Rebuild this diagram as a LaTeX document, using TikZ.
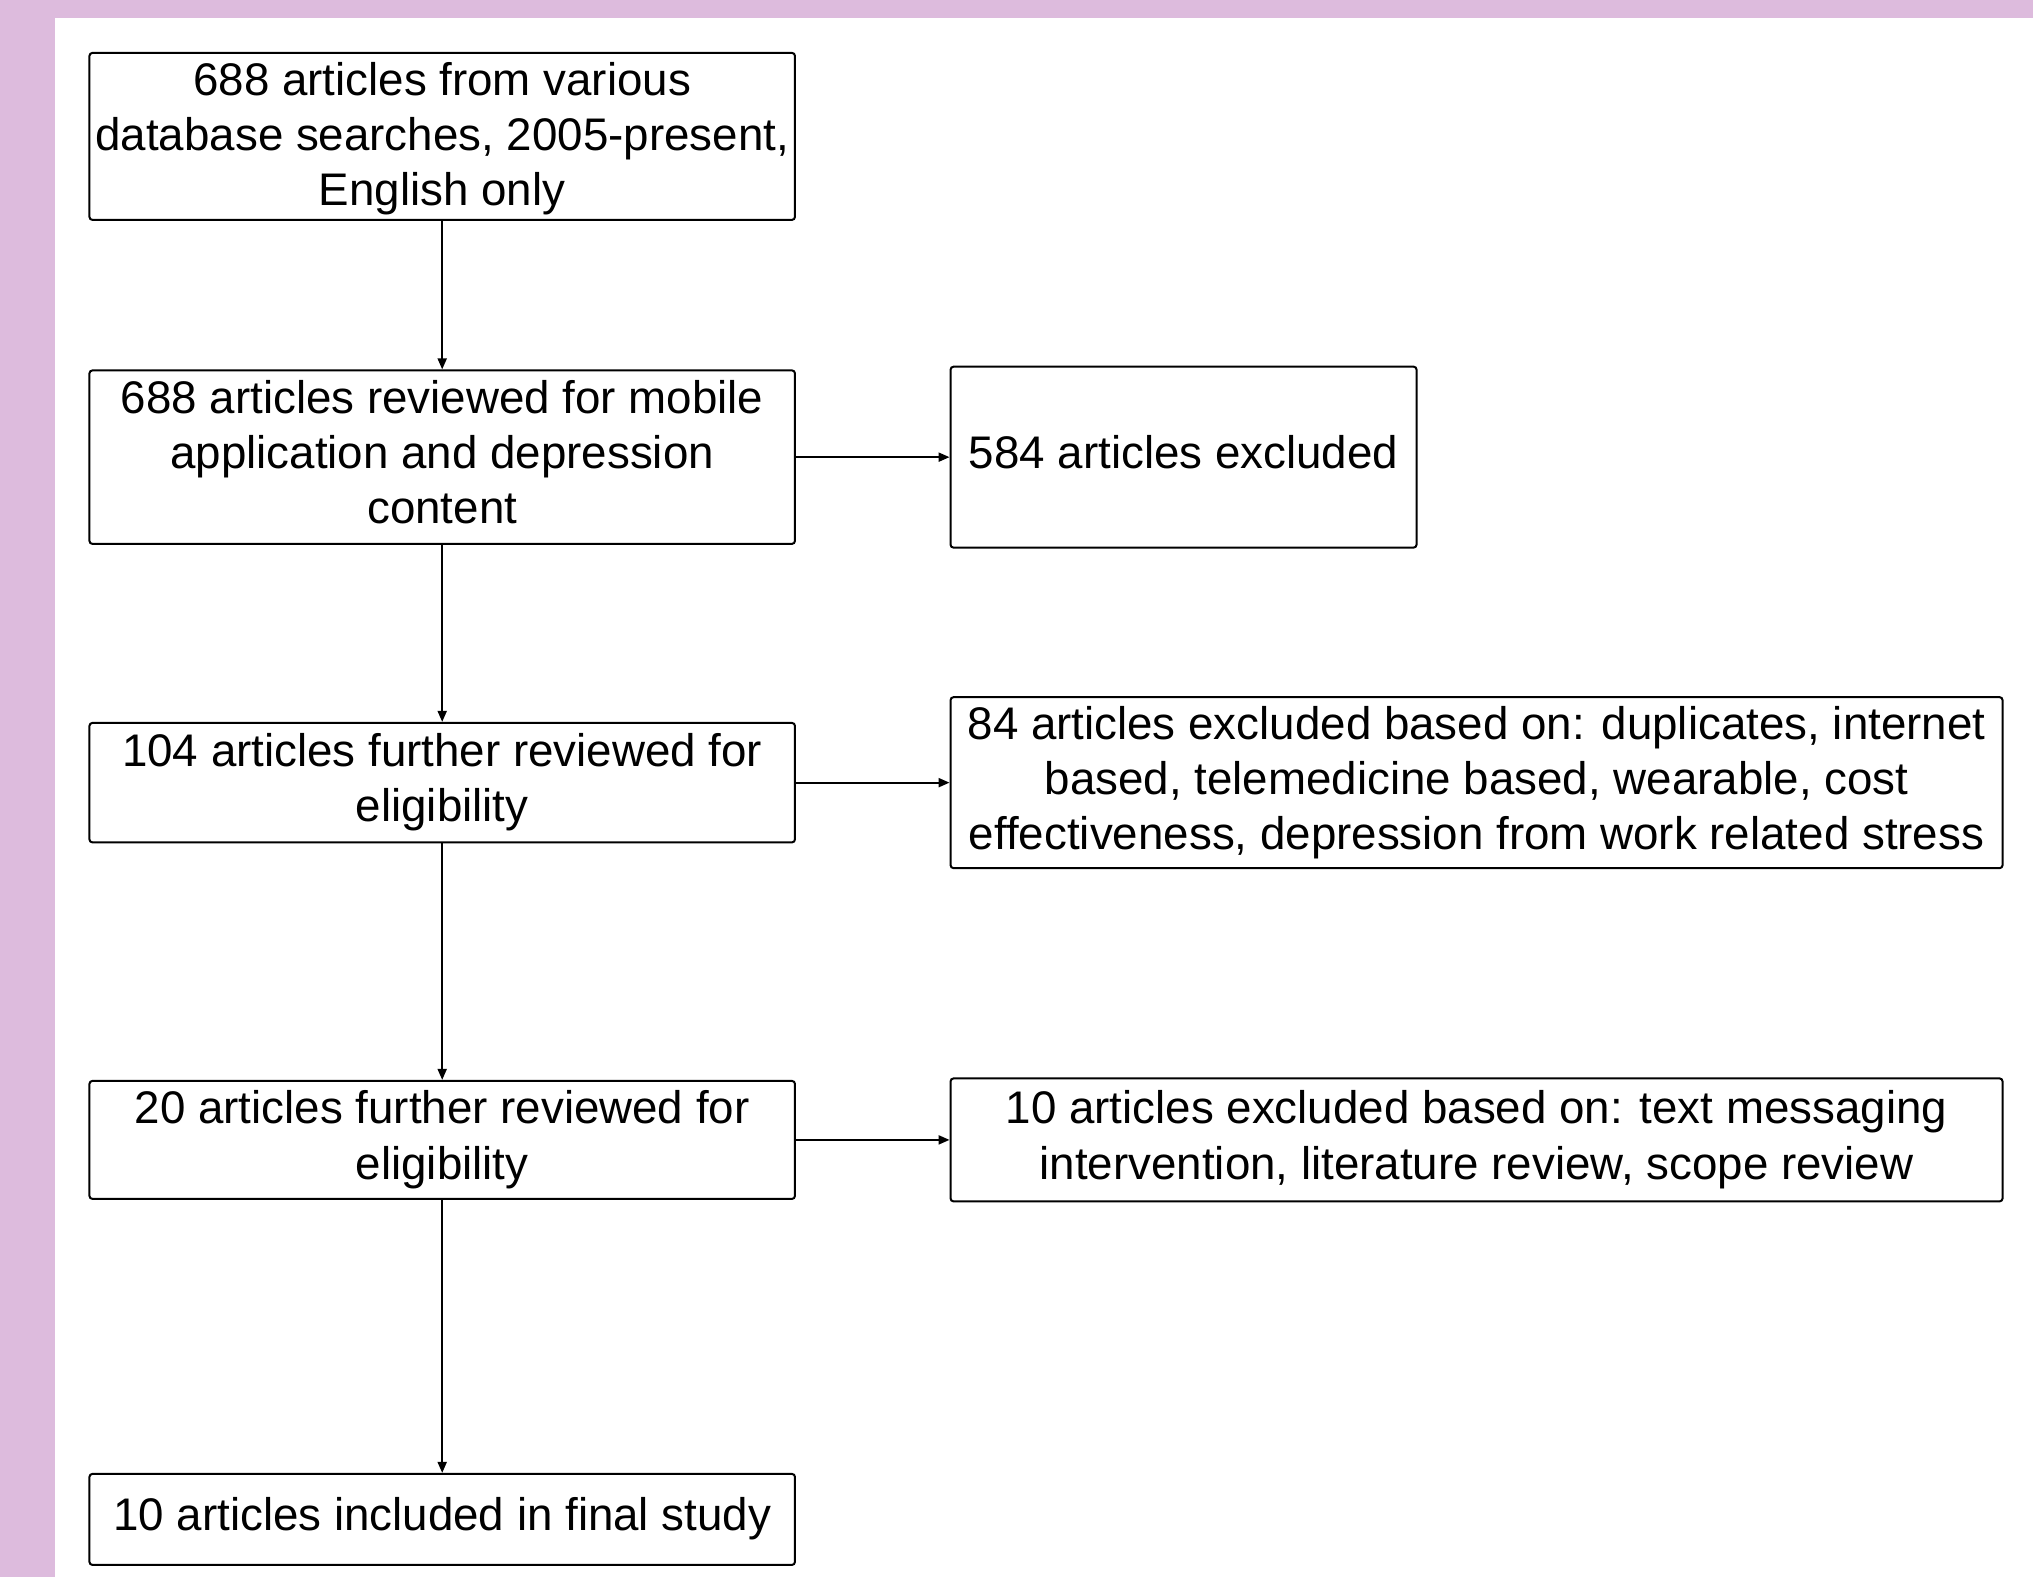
\documentclass[tikz,border=0pt]{standalone}
\usepackage{fontspec}
\setmainfont{Liberation Sans}
\usepackage{tikz}
\usepackage{xcolor}
\usetikzlibrary{positioning,arrows.meta}
\definecolor{framepink}{RGB}{221,187,221}
\tikzset{
  >={Triangle[length=5.5pt,width=4.5pt]},
  mybox/.style={
    rectangle,
    rounded corners=1.5pt,
    draw=black, line width=1pt,
    inner xsep=2pt, inner ysep=2pt,
    text depth=5pt,
    align=center,
    font=\fontsize{22.85pt}{27.6pt}\selectfont},
  myarrow/.style={draw, line width=1pt, ->},
}

\begin{document}
\begin{tikzpicture}
    \tikzset{
        leftbox/.style={mybox, minimum width=352.75pt},
        rightbox/.style={mybox, minimum width=526pt},
    }
    % background frame
    \fill[framepink] (0,0) rectangle (1016.5pt,-788.5pt);
    \fill[white] (27.25pt,-9pt) rectangle (1016.5pt,-788.5pt);

    \node[leftbox, minimum height=83.5pt, text depth=2.5pt] (stage1) at (221.1pt,-68.2pt) {688 articles from various\\database searches, 2005-present,\\English only};
    \node[leftbox, minimum height=86.75pt, below=74.25pt of stage1] (stage2) {688 articles reviewed for mobile\\application and depression\\content};
    \node[leftbox, minimum height=59.75pt, below=88.5pt of stage2] (stage3) {104 articles further reviewed for\\eligibility};
    \node[leftbox, minimum height=59pt, below=118.25pt of stage3] (stage4) {20 articles further reviewed for\\eligibility};
    \node[leftbox, minimum height=45.5pt, below=136.5pt of stage4] (stage5) {10 articles included in final study};

    \node[mybox, minimum width=233pt, minimum height=90.5pt, right=76.8pt of stage2] (out1) {584 articles excluded};
    \node[rightbox, minimum height=85.5pt, right=76.8pt of stage3] (out2) {84 articles excluded based on: duplicates, internet\\based, telemedicine based, wearable, cost\\effectiveness, depression from work related stress};
    \node[rightbox, minimum height=61.5pt, right=76.8pt of stage4] (out3) {10 articles excluded based on: text messaging\\intervention, literature review, scope review};

    \draw[myarrow] (stage1.south) -- (stage2.north);
    \draw[myarrow] (stage2.south) -- (stage3.north);
    \draw[myarrow] (stage3.south) -- (stage4.north);
    \draw[myarrow] (stage4.south) -- (stage5.north);

    \draw[myarrow] (stage2.east) -- (out1.west);
    \draw[myarrow] (stage3.east) -- (out2.west);
    \draw[myarrow] (stage4.east) -- (out3.west);
\end{tikzpicture}
\end{document}
